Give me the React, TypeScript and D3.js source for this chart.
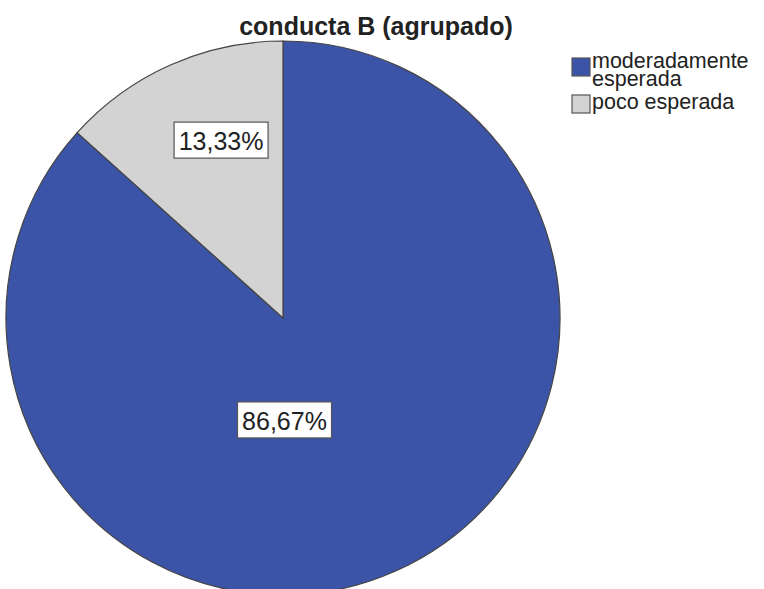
import React from "react";
import * as d3 from "d3";

const categories = ["moderadamente esperada", "poco esperada"];
const legendLines = [["moderadamente", "esperada"], ["poco esperada"]];
const values = [86.67, 13.33];
const labels = ["86,67%", "13,33%"];
const colors = ["#3b54a7", "#d3d3d3"];
const title = "conducta B (agrupado)";

export default function App() {
  const W = 764, H = 589;
  const cx = 283, cy = 318, R = 277;
  const pie = d3.pie<number>().sort(null).value((d) => d)(values);
  const arc = d3.arc<d3.PieArcDatum<number>>().innerRadius(0).outerRadius(R);
  const labelPos = pie.map((p, i) => {
    if (i === 0) {
      const a = Math.PI;
      const r = R * 0.368;
      return [Math.sin(a) * r + 1.5, -Math.cos(a) * r];
    }
    const a = (p.startAngle + p.endAngle) / 2 + (p.endAngle - p.startAngle) * 0.1;
    const r = R * 0.68;
    return [Math.sin(a) * r, -Math.cos(a) * r];
  });
  const font = "'Liberation Sans', Arial, sans-serif";
  return (
    <svg width={W} height={H} style={{ position: "absolute", left: 0, top: 0, background: "#fff" }}>
      <rect width={W} height={H} fill="#fff" />
      <g transform={`translate(${cx},${cy})`}>
        {pie.map((p, i) => (
          <path key={i} d={arc(p) || ""} fill={colors[i]} stroke="#444" strokeWidth={1.2} />
        ))}
        {pie.map((p, i) => {
          const [x, y] = labelPos[i];
          return (
            <g key={"l" + i} transform={`translate(${x},${y})`}>
              <rect x={-47} y={-18} width={94} height={36} fill="#fff" stroke="#555" strokeWidth={1.2} />
              <text x={0} y={10} textAnchor="middle" fontFamily={font} fontSize={25} fill="#222">
                {labels[i]}
              </text>
            </g>
          );
        })}
      </g>
      <text x={376} y={35} textAnchor="middle" fontFamily={font} fontSize={25} fontWeight="bold" fill="#222">
        {title}
      </text>
      {categories.map((c, i) => {
        const y0 = i === 0 ? 58 : 95;
        const base = i === 0 ? 10 : 14;
        return (
          <g key={c}>
            <rect x={572} y={y0} width={18} height={18} fill={colors[i]} stroke="#555" strokeWidth={1.2} />
            {legendLines[i].map((ln, j) => (
              <text key={j} x={592} y={y0 + base + j * 18} fontFamily={font} fontSize={21.5} fill="#222">
                {ln}
              </text>
            ))}
          </g>
        );
      })}
    </svg>
  );
}
